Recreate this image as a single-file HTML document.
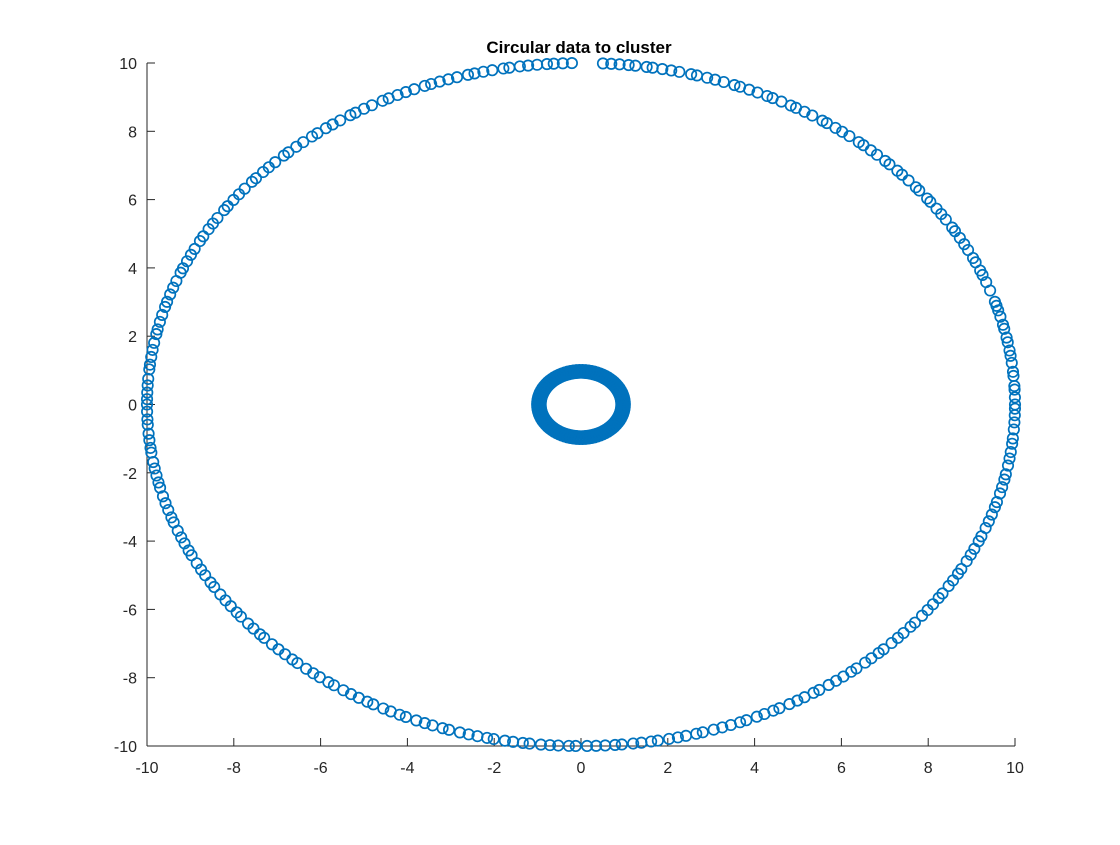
<!DOCTYPE html>
<html><head><meta charset="utf-8"><style>
html,body{margin:0;padding:0;background:#fff;}
svg text{font-family:"Liberation Sans",Arial,sans-serif;}
</style></head><body>
<svg id="chart" width="1120" height="840" xmlns="http://www.w3.org/2000/svg">
<rect width="1120" height="840" fill="#fff"/>
<text x="579" y="53" text-anchor="middle" font-size="17" font-weight="bold" fill="#000">Circular data to cluster</text>
<g id="axes"></g>
<g id="marks"></g>
</svg>
<script>
const xTicks=[-10,-8,-6,-4,-2,0,2,4,6,8,10];
const yTicks=[-10,-8,-6,-4,-2,0,2,4,6,8,10];
const outerAngles=[0,1.2,2.5,3.1,4.8,5.5,7,8.2,9.1,10.5,11.3,12.8,13.5,14.9,16,16.8,17.5,19.5,21,22.3,23.1,24.6,25.4,26.9,28,29.2,30.5,31.2,32.8,33.9,35,36.4,37.1,38.8,39.5,41,42.3,43.2,44.7,45.5,47,48.1,49.4,50.2,51.8,53,54.1,55.5,56.2,57.8,59,60.3,61.1,62.5,63.8,64.6,66,67.2,68.5,69.3,70.8,72,73.1,74.5,75.3,76.9,78,79.2,80.5,81.3,82.8,83.7,84.9,86,87.1,91.2,92.4,93.6,94.5,95.8,97,98.1,99.5,100.3,101.8,103,104.2,105.1,106.6,107.8,109,110.2,111.1,112.6,113.8,115,116.3,117.2,118.8,120,121.3,122.1,123.7,124.9,126,127.4,128.3,129.8,131,132.4,133.2,134.8,136,137.1,138.5,139.3,140.8,142,143.2,144.5,145.3,146.9,148,149.1,150.5,151.4,152.9,154,155.2,156.5,157.3,158.8,160,161.2,162.5,163.4,164.8,166,167.3,168.1,169.6,170.8,172,173.3,174.1,175.7,176.8,178,179.1,180,181.2,182.5,183.4,184.9,186,187.3,188.1,189.7,190.8,192,193.2,194.1,195.6,196.8,198,199.3,200.2,201.7,202.9,204,205.3,206.2,207.7,208.9,210,211.4,212.3,213.8,215,216.2,217.5,218.4,219.9,221,222.3,223.1,224.6,225.8,227,228.3,229.2,230.7,231.9,233,234.4,235.3,236.8,238,239.2,240.5,241.4,242.9,244,245.3,246.2,247.7,248.9,250,251.4,252.3,253.8,255,256.2,257.5,258.4,259.9,261,262.3,263.2,264.7,265.9,267,268.4,269.3,270.8,272,273.2,274.5,275.4,276.9,278,279.3,280.2,281.7,282.9,284,285.4,286.3,287.8,289,290.2,291.5,292.4,293.9,295,296.3,297.2,298.7,299.9,301,302.4,303.3,304.8,306,307.2,308.5,309.4,310.9,312,313.3,314.2,315.7,316.9,318,319.4,320.3,321.8,323,324.2,325.5,326.4,327.9,329,330.3,331.2,332.7,333.9,335,336.4,337.3,338.8,340,341.2,342.5,343.4,344.9,346,347.3,348.2,349.7,350.9,352,353.4,354.3,355.8,357,358.2,359.3];
const outerRadius=10;
const innerAngles=[];const innerRadii=[];
const innerAngleList=[0,4,8,12,16,20,24,28,32,36,40,44,48,52,56,60,64,68,72,76,80,84,88,92,96,100,104,108,112,116,120,124,128,132,136,140,144,148,152,156,160,164,168,172,176,180,184,188,192,196,200,204,208,212,216,220,224,228,232,236,240,244,248,252,256,260,264,268,272,276,280,284,288,292,296,300,304,308,312,316,320,324,328,332,336,340,344,348,352,356];
const innerRadiusList=[0.93,0.97,1.01];
for(const a of innerAngleList){for(const r of innerRadiusList){innerAngles.push(a);innerRadii.push(r);}}

const X0=147,X1=1015,Y0=746,Y1=63;
const xs=v=>X0+(v+10)/20*(X1-X0);
const ys=v=>Y0-(v+10)/20*(Y0-Y1);
const NS='http://www.w3.org/2000/svg';
const axes=document.getElementById('axes');
const marks=document.getElementById('marks');
function mk(tag,attrs,parent){const e=document.createElementNS(NS,tag);for(const k in attrs)e.setAttribute(k,attrs[k]);parent.appendChild(e);return e;}
let l=mk('line',{x1:X0,y1:Y0,x2:X1,y2:Y0,stroke:'#262626','stroke-width':1},axes);


l=mk('line',{x1:X0,y1:Y0,x2:X0,y2:Y1,stroke:'#262626','stroke-width':1},axes);


xTicks.forEach(v=>{
  const t=mk('line',{x1:xs(v),y1:Y0,x2:xs(v),y2:Y0-8,stroke:'#262626'},axes);
  
  
  const tx=mk('text',{x:xs(v),y:Y0+27,'text-anchor':'middle','font-size':16,fill:'#262626'},axes);
  tx.textContent=v;
  
  
});
yTicks.forEach(v=>{
  const t=mk('line',{x1:X0,y1:ys(v),x2:X0+8,y2:ys(v),stroke:'#262626'},axes);
  
  
  const tx=mk('text',{x:X0-10,y:ys(v)+6,'text-anchor':'end','font-size':16,fill:'#262626'},axes);
  tx.textContent=v;
  
  
});
function pt(a,r){
  const rad=a*Math.PI/180;
  const c=mk('ellipse',{cx:xs(r*Math.cos(rad)),cy:ys(r*Math.sin(rad)),rx:5.2,ry:5.2,fill:'none',stroke:'#0072BD','stroke-width':1.7},marks);
  
  
}
outerAngles.forEach(a=>pt(a,outerRadius));
innerAngles.forEach((a,i)=>pt(a,innerRadii[i]));
</script>
</body></html>
